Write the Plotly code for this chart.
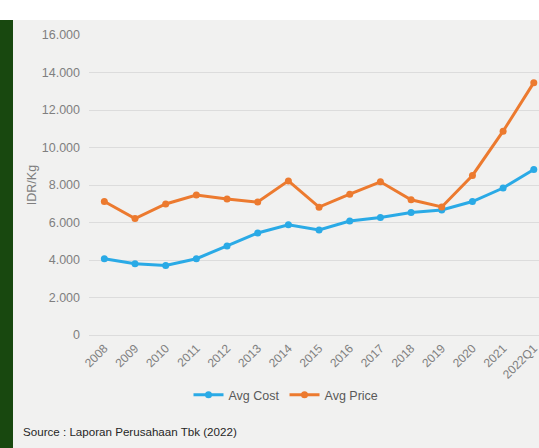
import plotly.graph_objects as go

# Yearly averages, IDR per kg
years = ["2008", "2009", "2010", "2011", "2012", "2013", "2014", "2015",
         "2016", "2017", "2018", "2019", "2020", "2021", "2022Q1"]
avg_cost = [4070, 3800, 3710, 4070, 4750, 5440, 5880, 5600,
            6080, 6270, 6530, 6670, 7120, 7840, 8830]
avg_price = [7120, 6210, 6990, 7470, 7250, 7090, 8220, 6820,
             7510, 8170, 7210, 6830, 8510, 10870, 13460]
y_ticks = [0, 2000, 4000, 6000, 8000, 10000, 12000, 14000, 16000]

W, H = 539, 448
L, R, T, B = 89, 0, 35, 113
pw, ph = W - L - R, H - T - B


def px_x(x):
    return (x - L) / pw


def px_y(y):
    return (H - B - y) / ph


BLUE = "#2aaae6"
ORANGE = "#ec7a2f"

fig = go.Figure()
fig.add_trace(go.Scatter(
    x=years, y=avg_cost, name="Avg Cost", mode="lines+markers",
    line=dict(color=BLUE, width=3), marker=dict(size=7, color=BLUE),
    cliponaxis=False,
))
fig.add_trace(go.Scatter(
    x=years, y=avg_price, name="Avg Price", mode="lines+markers",
    line=dict(color=ORANGE, width=3), marker=dict(size=7, color=ORANGE),
    cliponaxis=False,
))

shapes = [
    # light panel behind the chart
    dict(type="rect", xref="paper", yref="paper", layer="below",
         x0=px_x(13), x1=px_x(W + 5), y0=px_y(H + 5), y1=px_y(20),
         fillcolor="#f1f1f0", line_width=0),
    # dark green side band
    dict(type="rect", xref="paper", yref="paper", layer="below",
         x0=px_x(-5), x1=px_x(13), y0=px_y(H + 5), y1=px_y(20),
         fillcolor="#18480f", line_width=0),
]

fig.update_layout(
    width=W, height=H,
    margin=dict(l=L, r=R, t=T, b=B),
    paper_bgcolor="white", plot_bgcolor="rgba(0,0,0,0)",
    separators=",.",
    font=dict(family="Liberation Sans, Arial, sans-serif", color="#7f7f7f"),
    shapes=shapes,
    showlegend=True,
    legend=dict(
        orientation="h", x=px_x(286), xanchor="center",
        y=px_y(395), yanchor="middle",
        font=dict(size=12.5, color="#595959"),
        bgcolor="rgba(0,0,0,0)", itemwidth=30, tracegroupgap=0,
    ),
    annotations=[
        dict(text="Source : Laporan Perusahaan Tbk (2022)",
             xref="paper", yref="paper", x=px_x(21), y=px_y(431.5),
             xanchor="left", yanchor="middle", showarrow=False,
             font=dict(size=11.6, color="#262626")),
    ],
)

fig.update_xaxes(
    type="category", range=[-0.5, 14.17],
    tickangle=-45, tickfont=dict(size=12, color="#7f7f7f"),
    showgrid=False, showline=False, zeroline=False, ticks="",
    ticklabelstandoff=3,
)
fig.update_yaxes(
    range=[0, 16000], tickvals=y_ticks, tickformat=",.0f",
    tickfont=dict(size=12.5, color="#7f7f7f"),
    showgrid=True, gridcolor="#dcdcdc", gridwidth=1,
    zeroline=True, zerolinecolor="#dcdcdc", zerolinewidth=1,
    showline=False, ticks="", ticklabelstandoff=8,
    title=dict(text="IDR/Kg", font=dict(size=12.5, color="#7f7f7f"), standoff=2),
)

fig.write_html("out.html")
